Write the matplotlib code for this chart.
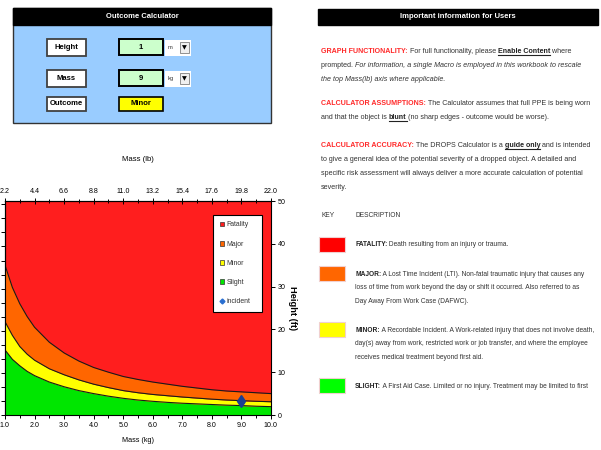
import matplotlib
matplotlib.use("Agg")
import matplotlib.pyplot as plt
import numpy as np
from matplotlib import font_manager
from matplotlib.patches import Rectangle, Patch
from matplotlib.lines import Line2D

# boundary heights (ft) for each mass (kg)
mass_kg = [1.0, 1.25, 1.5, 1.75, 2.0, 2.5, 3.0, 3.5, 4.0, 4.5, 5.0, 5.5,
           6.0, 6.5, 7.0, 7.5, 8.0, 8.5, 9.0, 9.5, 10.0]
slight_max_ft = [15.2, 13.0, 11.5, 10.2, 9.2, 7.7, 6.6, 5.7, 5.0, 4.4, 3.9, 3.5,
                 3.2, 2.95, 2.75, 2.6, 2.45, 2.3, 2.2, 2.05, 1.95]
minor_max_ft = [21.8, 18.6, 16.0, 14.2, 12.8, 10.8, 9.4, 8.2, 7.2, 6.4, 5.7, 5.2,
                4.8, 4.5, 4.2, 3.95, 3.7, 3.5, 3.35, 3.2, 3.1]
major_max_ft = [35.0, 29.8, 26.0, 23.0, 20.5, 17.0, 14.5, 12.6, 11.1, 10.0, 9.0, 8.3,
                7.7, 7.2, 6.7, 6.3, 5.9, 5.6, 5.4, 5.2, 5.0]

incident_mass_kg = 9
incident_height_m = 1

kg_ticks = [1, 2, 3, 4, 5, 6, 7, 8, 9, 10]
lb_ticks = [2.2, 4.4, 6.6, 8.8, 11.0, 13.2, 15.4, 17.6, 19.8, 22.0]
ft_ticks = [0, 10, 20, 30, 40, 50]

outcomes = ['Fatality', 'Major', 'Minor', 'Slight']
colors = ['#FF1E1E', '#FF6600', '#FFFF00', '#00E600']

W, H = 601, 450
names = {f.name for f in font_manager.fontManager.ttflist}
FONT = 'Liberation Sans Narrow' if 'Liberation Sans Narrow' in names else 'Liberation Sans'

fig = plt.figure(figsize=(W / 100, H / 100), dpi=100)
renderer = fig.canvas.get_renderer()


def fit(s, width, **kw):
    # font size (pt) that makes s about `width` pixels wide
    t = fig.text(0, 0, s, fontsize=10, fontfamily=FONT, **kw)
    w = t.get_window_extent(renderer).width
    t.remove()
    return 10 * width / w


FS = fit('to give a general idea of the potential severity of a dropped object. A detailed and', 257)
FS_KEY = min(FS, fit('MINOR: A Recordable Incident. A Work-related injury that does not involve death,', 240))
FS_HEAD = fit('Important information for Users', 115, weight='bold')
FS_BTN = fit('Outcome', 33, weight='bold')
FS_TICK = fit('22.0', 14)
FS_LEG = fit('incident', 24)


def box(x0, y0, x1, y1, **kw):
    fig.patches.append(Rectangle((x0 / W, 1 - y1 / H), (x1 - x0) / W, (y1 - y0) / H,
                                 transform=fig.transFigure, **kw))


def txt(x, y, s, **kw):
    kw.setdefault('fontfamily', FONT)
    kw.setdefault('fontsize', FS)
    kw.setdefault('va', 'center')
    return fig.text(x / W, 1 - y / H, s, **kw)


STYLES = {
    'n': dict(color='#333333'),
    'i': dict(color='#333333', style='italic'),
    'b': dict(color='#222222', weight='bold'),
    'u': dict(color='#222222', weight='bold'),
    'r': dict(color='#FF2A2A', weight='bold'),
}


def runs(x, y, parts, size=None):
    for s, st in parts:
        t = txt(x, y, s, ha='left', fontsize=size or FS, **STYLES[st])
        w = t.get_window_extent(renderer).width
        if st == 'u':
            fig.add_artist(Line2D([x / W, (x + w) / W], [1 - (y + 3.6) / H] * 2,
                                  color='#222222', lw=0.8))
        x += w


# ---- outcome calculator panel ----
box(13, 8, 271, 123, facecolor='#99CCFF', edgecolor='#333333', lw=1)
box(13, 8, 271, 25, facecolor='black', edgecolor='black', lw=1)
txt(142, 16.5, 'Outcome Calculator', color='white', weight='bold', ha='center', fontsize=FS_HEAD)

rows = [('Height', '1', 'm', 39, 56), ('Mass', '9', 'kg', 70, 87)]
for label, value, unit, y0, y1 in rows:
    box(47, y0, 86, y1, facecolor='white', edgecolor='#404040', lw=1.3)
    txt(66.5, (y0 + y1) / 2, label, ha='center', weight='bold', color='black', fontsize=FS_BTN)
    box(119, y0, 163, y1 - 1, facecolor='#CCFFCC', edgecolor='black', lw=1.4)
    txt(141, (y0 + y1) / 2, value, ha='center', weight='bold', color='black', fontsize=FS_BTN)
    box(165, y0 + 1, 191, y1, facecolor='white', edgecolor='none')
    txt(168, (y0 + y1) / 2, unit, ha='left', color='#333333', fontsize=FS_BTN * 0.75)
    box(180, y0 + 3, 189, y1 - 3, facecolor='#F0F0F0', edgecolor='#808080', lw=0.6)
    txt(184.5, (y0 + y1) / 2, '\u25BC', ha='center', fontfamily='DejaVu Sans', fontsize=4.5, color='black')

box(47, 97, 86, 111, facecolor='white', edgecolor='#404040', lw=1.3)
txt(66.5, 104, 'Outcome', ha='center', weight='bold', color='black', fontsize=FS_BTN)
box(119, 97, 163, 111, facecolor='#FFFF00', edgecolor='black', lw=1.2)
txt(141, 104, 'Minor', ha='center', weight='bold', color='black', fontsize=FS_BTN)

# ---- information panel ----
box(318, 9, 598, 25, facecolor='black', edgecolor='black', lw=1)
txt(458, 17, 'Important information for Users', color='white', weight='bold', ha='center',
    fontsize=FS_HEAD)

runs(321, 51.5, [('GRAPH FUNCTIONALITY:', 'r'), (' For full functionality, please ', 'n'),
                 ('Enable Content', 'u'), (' where', 'n')])
runs(321, 65.5, [('prompted. ', 'n'),
                 ('For information, a single Macro is employed in this workbook to rescale', 'i')])
runs(321, 79.5, [('the top Mass(lb) axis where applicable.', 'i')])
runs(321, 104, [('CALCULATOR ASSUMPTIONS:', 'r'),
                (' The Calculator assumes that full PPE is being worn', 'n')])
runs(321, 117.5, [('and that the object is ', 'n'), ('blunt', 'u'),
                  (' (no sharp edges - outcome would be worse).', 'n')])
runs(321, 145.5, [('CALCULATOR ACCURACY:', 'r'), (' The DROPS Calculator is a ', 'n'),
                  ('guide only', 'u'), (' and is intended', 'n')])
runs(321, 159.5, [('to give a general idea of the potential severity of a dropped object. A detailed and', 'n')])
runs(321, 173.5, [('specific risk assessment will always deliver a more accurate calculation of potential', 'n')])
runs(321, 187.5, [('severity.', 'n')])

txt(321, 215, 'KEY', ha='left', color='#333333', fontsize=FS_KEY)
txt(355, 215, 'DESCRIPTION', ha='left', color='#333333', fontsize=FS_KEY)

key_rows = [
    ('#FF0000', 237, [[('FATALITY:', 'b'), (' Death resulting from an injury or trauma.', 'n')]]),
    ('#FF6600', 266, [[('MAJOR:', 'b'), (' A Lost Time Incident (LTI). Non-fatal traumatic injury that causes any', 'n')],
                      [('loss of time from work beyond the day or shift it occurred. Also referred to as', 'n')],
                      [('Day Away From Work Case (DAFWC).', 'n')]]),
    ('#FFFF00', 322, [[('MINOR:', 'b'), (' A Recordable Incident. A Work-related injury that does not involve death,', 'n')],
                      [('day(s) away from work, restricted work or job transfer, and where the employee', 'n')],
                      [('receives medical treatment beyond first aid.', 'n')]]),
    ('#00FF00', 378, [[('SLIGHT:', 'b'), (' A First Aid Case. Limited or no injury. Treatment may be limited to first', 'n')]]),
]
for c, y0, lines in key_rows:
    box(319, y0, 345, y0 + 15, facecolor=c, edgecolor='#F0D0D0', lw=0.8)
    for i, parts in enumerate(lines):
        runs(355, y0 + 8 + 13.6 * i, parts, size=FS_KEY)

# ---- chart ----
ax = fig.add_axes([5 / W, 1 - 415 / H, 266 / W, 214 / H])
ax.set_facecolor(colors[0])
ax.fill_between(mass_kg, 0, slight_max_ft, color=colors[3], lw=0)
ax.fill_between(mass_kg, slight_max_ft, minor_max_ft, color=colors[2], lw=0)
ax.fill_between(mass_kg, minor_max_ft, major_max_ft, color=colors[1], lw=0)
for b in (slight_max_ft, minor_max_ft, major_max_ft):
    ax.plot(mass_kg, b, color='#1A1A1A', lw=0.8)
ax.plot(incident_mass_kg, incident_height_m / 0.3048, marker='d', color='#1C3F94',
        markersize=6.5, ls='none')

ax.set_xlim(1, 10)
ax.set_ylim(0, 50)
ax.set_xticks(kg_ticks)
ax.set_xticks(np.arange(1.5, 10, 1), minor=True)
ax.xaxis.set_major_formatter('{x:.1f}')
ax.yaxis.tick_right()
ax.yaxis.set_label_position('right')
ax.set_yticks(ft_ticks)
ax.tick_params(axis='both', which='both', direction='out', labelsize=FS_TICK,
               labelfontfamily=FONT, length=3, width=0.7, pad=2)
ax.tick_params(axis='x', which='minor', length=2)
for s in ax.spines.values():
    s.set_linewidth(0.8)
ax.set_xlabel('Mass (kg)', fontfamily=FONT, fontsize=fit('Mass (kg)', 32), labelpad=6)
ax.set_ylabel('Height (ft)', fontfamily=FONT, fontsize=fit('Height (ft)', 44, weight='bold'),
              weight='bold', rotation=270, labelpad=8)

top = ax.secondary_xaxis('top', functions=(lambda k: k * 2.2, lambda p: p / 2.2))
top.set_xticks(lb_ticks)
top.set_xticks([v + 1.1 for v in lb_ticks[:-1]], minor=True)
top.xaxis.set_major_formatter('{x:.1f}')
top.tick_params(which='both', direction='inout', length=4, width=0.7, labelsize=FS_TICK,
                labelfontfamily=FONT, pad=2)
top.tick_params(which='minor', length=3)
top.set_xlabel('Mass (lb)', fontfamily=FONT, fontsize=fit('Mass (lb)', 32), labelpad=20)

left = ax.secondary_yaxis('left', functions=(lambda f: f * 0.3048, lambda m: m / 0.3048))
left.set_yticks(range(0, 16))
left.tick_params(direction='out', length=3, width=0.7, labelleft=False)

handles = [Patch(facecolor=c, edgecolor='#333333', lw=0.5, label=l)
           for c, l in zip(colors, outcomes)]
handles.append(Line2D([], [], marker='D', ls='none', color='#2A6FD0', markersize=2.5,
                      label='incident'))
leg_px = FS_LEG * 100 / 72
leg = ax.legend(handles=handles, loc='upper left', bbox_to_anchor=(0.782, 0.472, 0.184, 0.463),
                mode='expand', borderaxespad=0, fancybox=False, edgecolor='black', framealpha=1,
                prop=dict(family=FONT, size=FS_LEG), handlelength=0.7, handleheight=0.7,
                handletextpad=0.3, labelspacing=20 / leg_px - 1.12, borderpad=0.95)
leg.get_frame().set_linewidth(0.8)
for t in leg.get_texts():
    t.set_color('#333333')

fig.savefig('out.png', dpi=100)
